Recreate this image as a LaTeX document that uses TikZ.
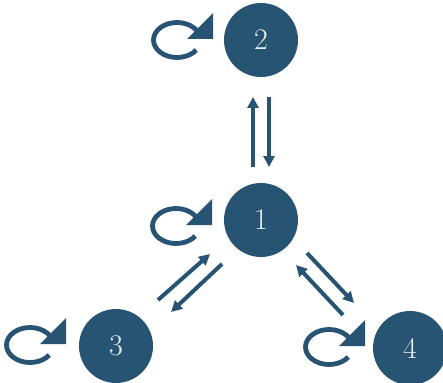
\documentclass[tikz,border=0pt]{standalone}
\usepackage{tikz}
\usetikzlibrary{arrows.meta}
\definecolor{navy}{RGB}{39,84,114}
\definecolor{digit}{RGB}{236,240,244}
\newcommand{\statelabel}[1]{\lower3pt\hbox{#1}}
\begin{document}
\begin{tikzpicture}[x=1pt,y=-1pt,
  state/.style={circle,fill=navy,minimum size=74pt,inner sep=0pt,
    text=digit,font=\fontsize{30}{30}\selectfont},
  flow/.style={draw=navy,line width=4pt,
    -{Triangle[length=11pt,width=11pt]}},
  selfloop/.pic={
    \draw[navy,line width=4.8pt] (35:23.5 and 17.5)
      arc[start angle=35,end angle=332,x radius=23.5,y radius=17.5];
    \fill[navy] (36,-27) -- (36,-1) -- (10,-1) -- cycle;
  }]
\useasboundingbox (0,0) rectangle (443,382);

% states
\node[state] (n2) at (261,40) {\statelabel{2}};
\node[state] (n1) at (261,220) {\statelabel{1}};
\node[state] (n3) at (116,346) {\statelabel{3}};
\node[state] (n4) at (410,348) {\statelabel{4}};

% self transitions, each to the left of its state
\coordinate (l2) at (177,40);
\coordinate (l1) at (176,226);
\coordinate (l3) at (30,345);
\coordinate (l4) at (329,347);
\pic at (l2) {selfloop};
\pic at (l1) {selfloop};
\pic at (l3) {selfloop};
\pic at (l4) {selfloop};

% end points of the transitions between states
\coordinate (a12) at (253,167);
\coordinate (b12) at (253,97);
\coordinate (a21) at (269,97);
\coordinate (b21) at (269,167);
\coordinate (a31) at (158,300);
\coordinate (b31) at (210,254);
\coordinate (a13) at (222,264);
\coordinate (b13) at (171,312);
\coordinate (a14) at (307,253);
\coordinate (b14) at (354,303);
\coordinate (a41) at (343,315);
\coordinate (b41) at (296,265);

\draw[flow] (a12) -- (b12);
\draw[flow] (a21) -- (b21);
\draw[flow] (a31) -- (b31);
\draw[flow] (a13) -- (b13);
\draw[flow] (a14) -- (b14);
\draw[flow] (a41) -- (b41);
\end{tikzpicture}
\end{document}
